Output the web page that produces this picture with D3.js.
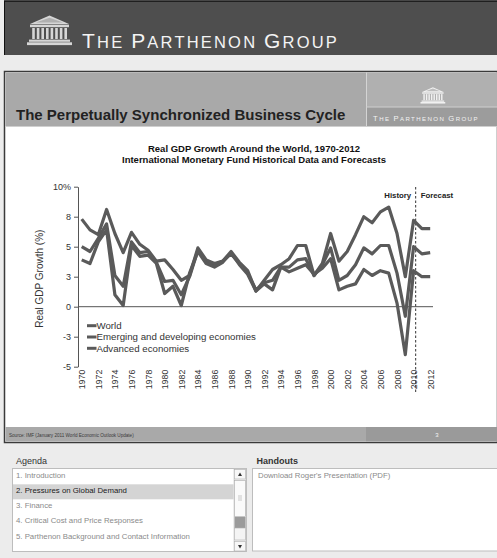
<!DOCTYPE html>
<html>
<head>
<meta charset="utf-8">
<script src="https://cdn.jsdelivr.net/npm/d3@7"></script>
<style>
  body { margin: 0; background: #ececec; }
  svg { display: block; font-family: "Liberation Sans", Arial, sans-serif; }
</style>
</head>
<body>
<div id="chart"></div>
<script>
// data (real GDP growth, %)
const years = [1970,1971,1972,1973,1974,1975,1976,1977,1978,1979,
               1980,1981,1982,1983,1984,1985,1986,1987,1988,1989,
               1990,1991,1992,1993,1994,1995,1996,1997,1998,1999,
               2000,2001,2002,2003,2004,2005,2006,2007,2008,2009,
               2010,2011,2012];
const emerging = [7.3,6.4,6.0,8.1,6.1,4.5,6.2,5.2,4.7,3.8,
                  3.9,3.1,2.2,2.6,4.9,3.9,3.6,3.8,4.6,3.7,
                  3.0,1.3,2.2,3.1,3.5,4.0,5.1,5.1,2.6,3.6,
                  6.1,3.8,4.6,6.0,7.5,7.0,7.9,8.3,6.1,2.5,
                  7.2,6.5,6.5];
const world = [5.0,4.6,5.7,6.9,2.6,1.7,5.4,4.5,4.6,3.7,
               2.1,2.2,1.0,2.5,4.7,3.7,3.5,3.8,4.4,3.6,
               2.8,1.4,2.0,2.2,3.3,3.3,3.9,4.0,2.6,3.5,
               4.9,2.2,2.6,3.5,4.9,4.4,5.1,5.1,2.8,-0.8,
               5.0,4.4,4.5];
const advanced = [3.9,3.6,5.4,6.4,1.0,0.1,5.1,4.2,4.3,3.6,
                  1.1,1.7,0.1,2.8,4.6,3.6,3.3,3.7,4.5,3.5,
                  2.7,1.3,1.9,1.4,3.3,2.9,3.2,3.5,2.7,3.2,
                  4.0,1.4,1.7,1.9,3.1,2.6,3.0,2.8,0.3,-4.0,
                  3.0,2.5,2.5];
const seriesNames = ["World", "Emerging and developing economies", "Advanced economies"];
const yTicks = [-5, -2.5, 0, 2.5, 5, 7.5, 10];
const yTickLabels = ["-5", "-3", "0", "3", "5", "8", "10%"];
const xTickYears = [1970,1972,1974,1976,1978,1980,1982,1984,1986,1988,1990,
                    1992,1994,1996,1998,2000,2002,2004,2006,2008,2010,2012];
const forecastSplit = 2010.25;
const agendaItems = ["1. Introduction", "2. Pressures on Global Demand", "3. Finance",
                     "4. Critical Cost and Price Responses",
                     "5. Parthenon Background and  Contact Information"];
const activeItem = 1;

const width = 497, height = 558;
const plot = { left: 78, right: 433, top: 186.7, bottom: 366.7 };

const svg = d3.select("#chart").append("svg")
    .attr("width", width)
    .attr("height", height);

svg.append("rect").attr("width", width).attr("height", height).attr("fill", "#ececec");

// little temple logo
function temple(g, tx, ty, s, fill) {
  const t = g.append("g").attr("transform", `translate(${tx},${ty}) scale(${s})`).attr("fill", fill);
  t.append("path").attr("d", "M3,9 L22.5,0.5 L42,9 Z");
  t.append("path").attr("d", "M9,7.6 L22.5,2.8 L36,7.6 Z").attr("fill", "#8a8a8a").attr("opacity", 0.5);
  t.append("rect").attr("x", 3).attr("y", 9.6).attr("width", 39).attr("height", 2.6);
  for (let i = 0; i < 8; i++) {
    t.append("rect").attr("x", 5.2 + i * 4.6).attr("y", 13).attr("width", 2.6).attr("height", 11);
  }
  t.append("rect").attr("x", 2).attr("y", 24.6).attr("width", 41).attr("height", 2.2);
  t.append("rect").attr("x", 0).attr("y", 27.3).attr("width", 45).attr("height", 2.8);
}

function smallCaps(g, x, y, big, small, ls, fill, anchor) {
  const t = g.append("text").attr("x", x).attr("y", y).attr("fill", fill)
      .attr("letter-spacing", ls).attr("text-anchor", anchor || "start");
  "The Parthenon Group".split(" ").forEach((w, i) => {
    t.append("tspan").attr("font-size", big).text(w[0]);
    t.append("tspan").attr("font-size", small).text(w.slice(1).toUpperCase() + (i < 2 ? " " : ""));
  });
}

// top banner
svg.append("rect").attr("x", 4).attr("y", 1).attr("width", 493).attr("height", 54).attr("fill", "#4e4e4e");
svg.append("line").attr("x1", 4).attr("x2", 497).attr("y1", 1).attr("y2", 1).attr("stroke", "#111").attr("stroke-width", 1.5);
svg.append("line").attr("x1", 4.5).attr("x2", 4.5).attr("y1", 1).attr("y2", 55).attr("stroke", "#111");
temple(svg, 27, 15, 1, "#d6d6d6");
smallCaps(svg, 82, 48, 21, 16.5, 2.2, "#f4f4f4");

// slide frame
svg.append("rect").attr("x", 4.5).attr("y", 71.5).attr("width", 493).attr("height", 371)
    .attr("fill", "#fff").attr("stroke", "#3a3a3a").attr("stroke-width", 1.5);
svg.append("rect").attr("x", 5.5).attr("y", 72.5).attr("width", 360.5).attr("height", 53.5).attr("fill", "#a9a9a9");
svg.append("rect").attr("x", 366).attr("y", 72.5).attr("width", 131).attr("height", 34.5).attr("fill", "#b0b0b0");
svg.append("rect").attr("x", 366).attr("y", 107).attr("width", 131).attr("height", 19).attr("fill", "#9c9c9c");
svg.append("line").attr("x1", 366.5).attr("x2", 366.5).attr("y1", 72.5).attr("y2", 126).attr("stroke", "#d4d4d4");
svg.append("line").attr("x1", 366).attr("x2", 497).attr("y1", 107).attr("y2", 107).attr("stroke", "#cfcfcf");
svg.append("line").attr("x1", 5.5).attr("x2", 497).attr("y1", 126.5).attr("y2", 126.5).attr("stroke", "#cfcfcf");
svg.append("text").attr("x", 16).attr("y", 120).attr("font-size", 15).attr("font-weight", "bold")
    .attr("fill", "#222").text("The Perpetually Synchronized Business Cycle");
temple(svg, 420.5, 87, 0.55, "#f2f2f2");
smallCaps(svg, 426, 121, 7.6, 6.1, 1.4, "#f2f2f2", "middle");

// footer strip
svg.append("rect").attr("x", 5.5).attr("y", 427).attr("width", 360.5).attr("height", 14.5).attr("fill", "#a9a9a9");
svg.append("rect").attr("x", 366).attr("y", 427).attr("width", 131).attr("height", 14.5).attr("fill", "#9a9a9a");
svg.append("text").attr("x", 9).attr("y", 437).attr("font-size", 4.6).attr("fill", "#3a3a3a")
    .text("Source: IMF (January 2011 World Economic Outlook Update)");
svg.append("text").attr("x", 437).attr("y", 437).attr("font-size", 6).attr("fill", "#f4f4f4")
    .attr("text-anchor", "middle").text("3");

// chart titles
svg.append("text").attr("x", 254).attr("y", 152).attr("text-anchor", "middle").attr("font-size", 9.5)
    .attr("font-weight", "bold").attr("fill", "#111").text("Real GDP Growth Around the World, 1970-2012");
svg.append("text").attr("x", 254).attr("y", 163).attr("text-anchor", "middle").attr("font-size", 9.5)
    .attr("font-weight", "bold").attr("fill", "#111").text("International Monetary Fund Historical Data and Forecasts");

// scales
const x = d3.scaleLinear().domain([1970, 2012]).range([81.7, 430.2]);
const y = d3.scaleLinear().domain([-5, 10]).range([plot.bottom, plot.top]);

const yAxis = svg.append("g")
    .attr("transform", `translate(${plot.left},0)`)
    .call(d3.axisLeft(y).tickValues(yTicks).tickFormat((d, i) => yTickLabels[i]).tickSize(4).tickSizeOuter(0));
yAxis.select(".domain").attr("stroke", "#555");
yAxis.selectAll(".tick line").attr("stroke", "#555");
yAxis.selectAll("text").attr("font-size", 9).attr("fill", "#333").attr("font-family", "Liberation Sans, Arial, sans-serif");

svg.append("text")
    .attr("transform", `translate(43,${(plot.top + plot.bottom) / 2 + 2}) rotate(-90)`)
    .attr("text-anchor", "middle").attr("font-size", 10).attr("fill", "#333")
    .text("Real GDP Growth (%)");

// zero line
svg.append("line").attr("x1", plot.left).attr("x2", plot.right).attr("y1", y(0)).attr("y2", y(0))
    .attr("stroke", "#555").attr("stroke-width", 1);

// x labels
const xAxis = svg.append("g")
    .attr("transform", `translate(0,${plot.bottom})`)
    .call(d3.axisBottom(x).tickValues(xTickYears).tickFormat(d3.format("d")).tickSize(0));
xAxis.select(".domain").remove();
xAxis.selectAll("text")
    .attr("transform", "rotate(-90)").attr("text-anchor", "end")
    .attr("x", -3).attr("y", 0).attr("dy", "0.35em")
    .attr("font-size", 8.8).attr("fill", "#333").attr("font-family", "Liberation Sans, Arial, sans-serif");

// history / forecast split
svg.append("line").attr("x1", x(forecastSplit)).attr("x2", x(forecastSplit))
    .attr("y1", 187).attr("y2", 392).attr("stroke", "#333").attr("stroke-dasharray", "2.5,2").attr("stroke-width", 1);
svg.append("text").attr("x", x(forecastSplit) - 4.5).attr("y", 197.5).attr("text-anchor", "end")
    .attr("font-size", 7.8).attr("font-weight", "bold").attr("fill", "#222").text("History");
svg.append("text").attr("x", x(forecastSplit) + 5).attr("y", 197.5)
    .attr("font-size", 7.8).attr("font-weight", "bold").attr("fill", "#222").text("Forecast");

// lines
const line = d3.line()
    .x((d, i) => x(years[i]))
    .y(d => y(d));
[world, emerging, advanced].forEach(s => {
  svg.append("path").datum(s).attr("d", line)
      .attr("fill", "none").attr("stroke", "#5a5a5a").attr("stroke-width", 3.2)
      .attr("stroke-linejoin", "round");
});

// legend
seriesNames.forEach((name, i) => {
  const ly = 329 + i * 11.3;
  svg.append("line").attr("x1", 87).attr("x2", 96.5).attr("y1", ly - 3.3).attr("y2", ly - 3.3)
      .attr("stroke", "#5a5a5a").attr("stroke-width", 3);
  svg.append("text").attr("x", 96.5).attr("y", ly).attr("font-size", 9.7)
      .attr("fill", "#333").text(name);
});

// agenda panel
svg.append("text").attr("x", 16).attr("y", 463.5).attr("font-size", 9).attr("fill", "#333").text("Agenda");
svg.append("rect").attr("x", 12.5).attr("y", 468.5).attr("width", 234).attr("height", 83)
    .attr("fill", "#fff").attr("stroke", "#bdbdbd");
svg.append("rect").attr("x", 13).attr("y", 484.3).attr("width", 220.5).attr("height", 15).attr("fill", "#d4d4d4");
agendaItems.forEach((t, i) => {
  svg.append("text").attr("x", 16).attr("y", 477.5 + i * 15.3).attr("font-size", 7.8)
      .attr("fill", i === activeItem ? "#1a1a1a" : "#8a8a8a").text(t);
});
// scrollbar
const sb = svg.append("g");
sb.append("rect").attr("x", 234).attr("y", 469).attr("width", 12).attr("height", 82).attr("fill", "#f1f1f1").attr("stroke", "#c4c4c4").attr("stroke-width", 0.6);
sb.append("rect").attr("x", 234.5).attr("y", 469.5).attr("width", 11).attr("height", 9.5).attr("fill", "#f7f7f7").attr("stroke", "#b0b0b0").attr("stroke-width", 0.6);
sb.append("path").attr("d", "M238,476 L240,472.5 L242,476 Z").attr("fill", "#333");
sb.append("rect").attr("x", 234.5).attr("y", 480.5).attr("width", 11).attr("height", 36).attr("fill", "#fafafa").attr("stroke", "#a8a8a8").attr("stroke-width", 0.6);
[496, 498, 500].forEach(gy => sb.append("line").attr("x1", 238).attr("x2", 242).attr("y1", gy).attr("y2", gy).attr("stroke", "#aaa").attr("stroke-width", 0.6));
sb.append("rect").attr("x", 234.5).attr("y", 517).attr("width", 11).attr("height", 11).attr("fill", "#9b9b9b");
sb.append("rect").attr("x", 234.5).attr("y", 528).attr("width", 11).attr("height", 12).attr("fill", "#f4f4f4").attr("stroke", "#b0b0b0").attr("stroke-width", 0.6);
sb.append("rect").attr("x", 234.5).attr("y", 541.5).attr("width", 11).attr("height", 9.5).attr("fill", "#f7f7f7").attr("stroke", "#b0b0b0").attr("stroke-width", 0.6);
sb.append("path").attr("d", "M238,545 L240,548.5 L242,545 Z").attr("fill", "#333");

// handouts panel
svg.append("text").attr("x", 256.5).attr("y", 463.5).attr("font-size", 9).attr("font-weight", "bold")
    .attr("fill", "#333").text("Handouts");
svg.append("rect").attr("x", 252.5).attr("y", 468.5).attr("width", 246).attr("height", 82.5)
    .attr("fill", "#fff").attr("stroke", "#bdbdbd");
svg.append("text").attr("x", 258).attr("y", 477.5).attr("font-size", 7.8).attr("fill", "#8a8a8a")
    .text("Download Roger's Presentation (PDF)");
</script>
</body>
</html>
